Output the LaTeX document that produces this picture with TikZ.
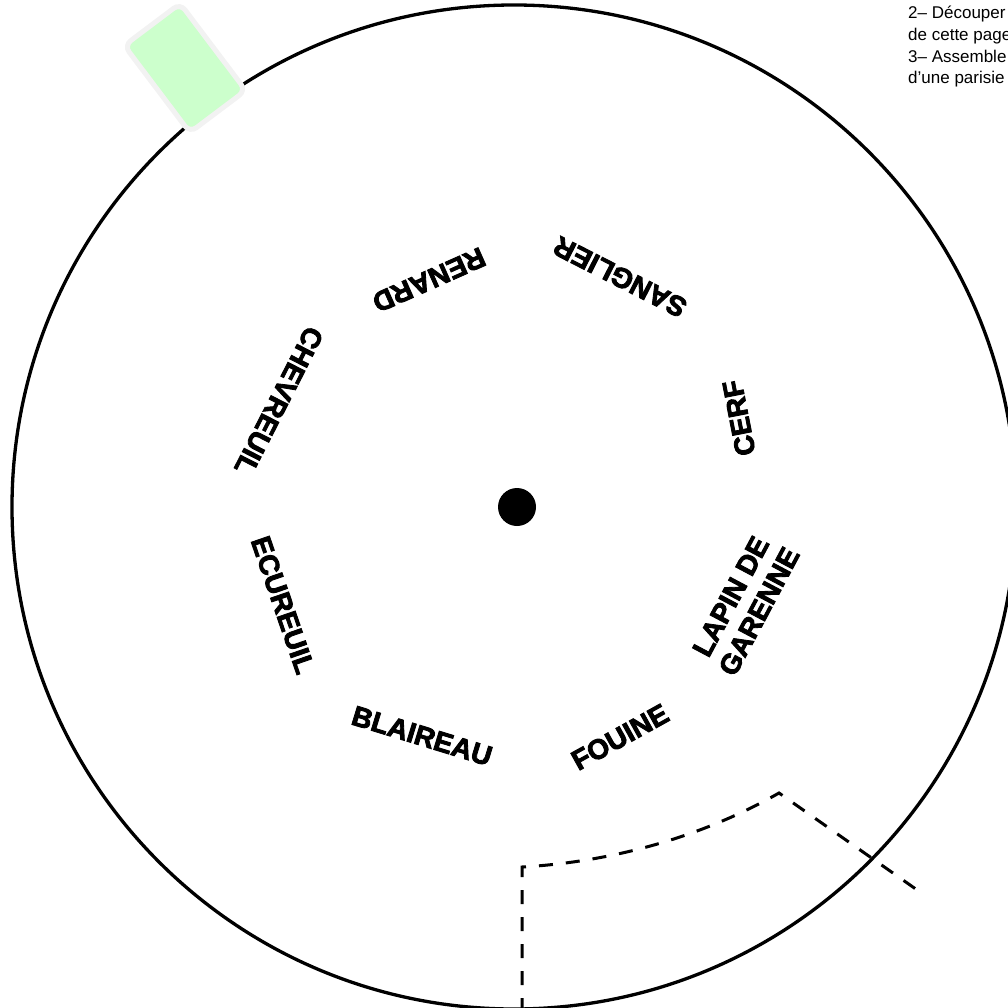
\documentclass[tikz,border=0pt]{standalone}
\usepackage{fontspec}
\setmainfont{Liberation Sans}
\newfontfamily\animalfont[FakeBold=3]{Liberation Sans Bold}
\usetikzlibrary{positioning}
\definecolor{tabgreen}{HTML}{CCFFCC}
\definecolor{tabedge}{HTML}{F2F2F2}

\begin{document}
\begin{tikzpicture}[x=1pt, y=-1pt, animal/.style={inner sep=0pt, align=center, font=\animalfont\fontsize{28}{32}\selectfont}, instruction/.style={anchor=base west, inner sep=0pt, font=\fontsize{17}{20}\selectfont}, wheel/.style={line width=3.3pt}, cutline/.style={line width=3pt, dash pattern=on 14pt off 13pt}, tab/.style={draw=tabedge, line width=5pt, fill=tabgreen, rounded corners=8pt, minimum width=70pt, minimum height=109pt}]
\useasboundingbox (0,0) rectangle (1008,1008);
\clip (0,0) rectangle (1008,1008);
\coordinate (hub) at (514,507);
\draw[wheel] (hub) circle[radius=502pt];
\node[fill, circle, minimum size=38pt, inner sep=0pt] (pivot) at (517,507) {};
\node[tab, rotate=37] (tab) at (185,68) {};
\node[animal, rotate=204] (renard) at (429,280) {RENARD};
\node[animal, rotate=153] (sanglier) at (620,277) {SANGLIER};
\node[animal, rotate=101] (cerf) at (739,418) {CERF};
\node[animal, rotate=62] (lapin) at (745,604) {LAPIN DE\\GARENNE};
\node[animal, rotate=29] (fouine) at (620,737) {FOUINE};
\node[animal, rotate=-17] (blaireau) at (422,736) {BLAIREAU};
\node[animal, rotate=-71] (ecureuil) at (283,605) {ECUREUIL};
\node[animal, rotate=-117] (chevreuil) at (279,401) {CHEVREUIL};
\coordinate (cutstart) at (522,1012);
\coordinate (cutcorner) at (522,867);
\coordinate (cutbend) at (779,793);
\coordinate (cutend) at (920,892);
\draw[cutline] (cutstart) -- (cutcorner) .. controls (610,862) and (700,838) .. (cutbend) -- (cutend);
\node[instruction] (steptwo) at (908,19) {2– Découper};
\node[instruction] (steptwob) at (908,40.7) {de cette page};
\node[instruction] (stepthree) at (908,62.3) {3– Assemble};
\node[instruction] (stepthreeb) at (908,84) {d’une parisie};
\end{tikzpicture}
\end{document}
